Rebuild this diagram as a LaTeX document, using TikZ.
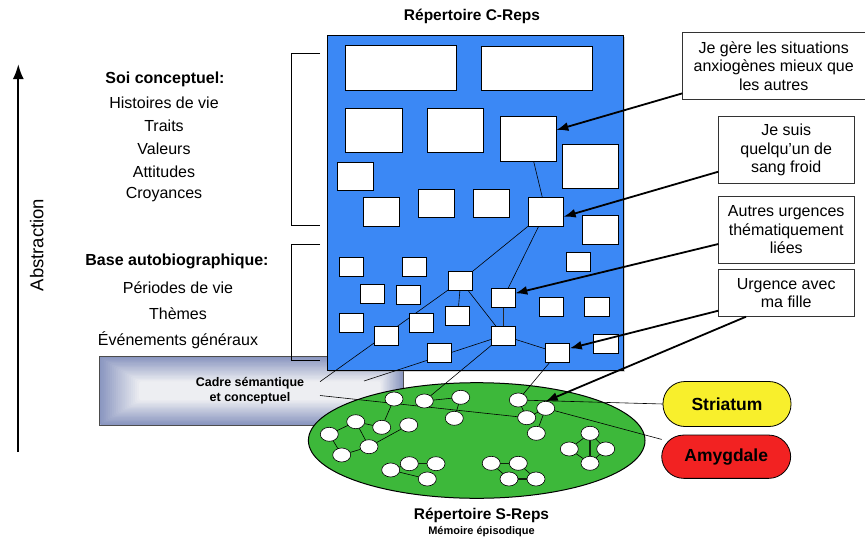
\documentclass[tikz,border=0pt]{standalone}
\usepackage{fontspec}
\setmainfont{Liberation Sans}
\usepackage{tikz}
\usetikzlibrary{arrows.meta,positioning,backgrounds,shapes.geometric,shadows}
\definecolor{cRep}{HTML}{3B88F5}
\definecolor{cEpi}{HTML}{3DB83A}
\definecolor{cStri}{HTML}{F8EF2C}
\definecolor{cAmyg}{HTML}{F22222}
\definecolor{cCadre}{HTML}{8A96C0}
\definecolor{cCadreLt}{HTML}{EDEEF2}

\begin{document}
\begin{tikzpicture}[x=1pt,y=-1pt,every node/.style={outer sep=0pt},
  crep/.style={draw=black,line width=0.7pt,fill=white,inner sep=0pt},
  sdot/.style={ellipse,draw=black,line width=0.6pt,fill=white,minimum width=18pt,minimum height=14pt,inner sep=0pt},
  callout/.style={draw=black!80,line width=0.6pt,fill=white,align=center,inner sep=2pt,
                  font=\fontsize{16}{18.5}\selectfont},
  lbl/.style={font=\fontsize{16}{18}\selectfont},
  lblhead/.style={font=\fontsize{16}{18}\selectfont\bfseries},
  point/.style={-{Latex[length=12pt,width=9pt]},line width=1.8pt},
  zone/.style={draw=black,line width=0.8pt,rounded corners=22pt,minimum width=128pt,
               minimum height=45pt,font=\fontsize{17.5}{20}\selectfont\bfseries},
  link/.style={line width=0.6pt},
  blink/.style={line width=1.4pt,black!80!cEpi}]
\useasboundingbox (0,0) rectangle (865,538);

% containers
\begin{scope}[on background layer]
  % cadre: stepped glow, dark rim to light centre
  \foreach \i in {0,...,24}{
    \pgfmathsetmacro\p{min(100,\i*100/19)}
    \fill[cCadreLt!\p!cCadre,rounded corners=2pt]
      ({99.3+2.1*\i},{356.7+1.3*\i}) rectangle ({403.3-1.2*\i},{425-1.3*\i});
  }
  \draw[black!70,line width=0.6pt] (99.3,356.7) rectangle (403.3,425);
  \node[draw=black,line width=1pt,fill=cRep,minimum width=296pt,minimum height=335pt,
        drop shadow={shadow xshift=2pt,shadow yshift=-2pt,opacity=.35}] (creps) at (475,202.5) {};
  \node[ellipse,draw=black,line width=1pt,fill=cEpi,minimum width=336.6pt,
        minimum height=115.6pt] (sreps) at (476.7,440.5) {};
\end{scope}

\node[font=\fontsize{15.5}{18}\selectfont\bfseries] (ctitle) at (472,16) {Répertoire C-Reps};
\node[font=\fontsize{15.5}{18}\selectfont\bfseries] (stitle) at (481.5,515.5) {Répertoire S-Reps};
\node[font=\fontsize{11}{13}\selectfont\bfseries] (ssub) at (481.5,531.5) {Mémoire épisodique};

% C-Reps boxes: name/x/y
\foreach \n/\x/\y in {1/401/67.7, 2/537/68}
  \node[crep,minimum width=110.6pt,minimum height=44.3pt] (cr\n) at (\x,\y) {};
\foreach \n/\x/\y in {3/373.7/130, 4/455.3/130, 5/528.2/138.8, 6/590/166.3}
  \node[crep,minimum width=56.3pt,minimum height=44.3pt] (cr\n) at (\x,\y) {};
\foreach \n/\x/\y in {7/355.2/176.5, 8/381.5/211.8, 9/436.2/203.5, 10/491.2/203.5,
                      11/545.8/211.8, 12/600.2/229.8}
  \node[crep,minimum width=35.7pt,minimum height=28.4pt] (cr\n) at (\x,\y) {};
\foreach \n/\x/\y in {13/578.7/261.7, 14/351.7/266.8, 15/414.2/266.8, 16/460.7/281,
                      17/372/293.8, 18/408.3/294.7, 19/503.2/298.3, 20/551.2/307.3,
                      21/596.8/307.3, 22/351.7/322.5, 23/421.5/322.5, 24/457.7/316.2,
                      25/386.7/335.5, 26/503.2/335.5, 27/439.3/352.7, 28/557.7/352.8,
                      29/605.8/343.5}
  \node[crep,minimum width=24.2pt,minimum height=19pt] (cr\n) at (\x,\y) {};

% S-Reps dots
\foreach \n/\x/\y in {1/394/399, 2/424.3/401, 3/460.7/397.3, 4/454.3/418.3, 5/355.7/421.7,
                      6/381.7/427.3, 7/408.7/425, 8/329.3/434.3, 9/369/446.7, 10/341.7/455,
                      11/390.7/470, 12/409.3/463.7, 13/436/463.7, 14/427.3/479,
                      15/518.3/400, 16/545.7/408.3, 17/526.7/417.7, 18/536.3/433.3,
                      19/590/433.3, 20/569.3/449, 21/605.7/449, 22/590/463.3,
                      23/491.2/463.3, 24/518.3/463.3, 25/509/479, 26/536/479}
  \node[sdot] (e\n) at (\x,\y) {};

% cadre
\node[font=\fontsize{12.5}{15}\selectfont\bfseries,align=center] (cadre) at (250,390.5)
  {Cadre sémantique\\et conceptuel};
\coordinate (cadA) at (320,381.7);
\coordinate (cadB) at (364,381);
\coordinate (cadC) at (320,395.5);

% brain zones
\node[zone,fill=cStri] (stri) at (727,404) {Striatum};
\node[zone,fill=cAmyg,minimum width=129pt,minimum height=43.3pt] (amyg) at (726.2,456.7) {Amygdale};

% links under the boxes
\begin{scope}[on background layer]
  \foreach \a/\b in {cr5/cr11, cr11/cr16, cr11/cr19, cr16/cr24, cr16/cr26, cr26/cr28,
                     cr16/cadA, cr26/cadB, cr26/e2, cr28/e15}
    \draw[link] (\a) -- (\b);
  \draw[line width=1.4pt,black!85] (cr19) -- (cr26);
  \draw[link] (cadC) -- (e17);
  \foreach \a/\b in {e1/e6, e2/e3, e3/e4, e5/e6, e5/e8, e5/e9, e8/e10, e10/e9, e9/e7,
                     e11/e12, e11/e14, e15/e17, e17/e16, e16/e18, e19/e20, e19/e21,
                     e20/e22, e21/e22, e23/e25, e24/e26}
    \draw[link] (\a) -- (\b);
  \foreach \a/\b in {e12/e13, e19/e22, e23/e24, e25/e26}
    \draw[blink] (\a) -- (\b);
  \draw[link] (e15) -- (stri.west);
  \draw[link] (e16) -- (amyg.165);
\end{scope}

% callouts
\node[callout,minimum width=182.7pt,minimum height=66.7pt] (co1) at (773.7,65.7)
  {Je gère les situations\\anxiogènes mieux que\\les autres};
\node[callout,minimum width=135.7pt,minimum height=66.6pt] (co2) at (786.2,150)
  {Je suis\\quelqu’un de\\sang froid};
\node[callout,minimum width=135.7pt,minimum height=66.6pt] (co3) at (786.2,230)
  {Autres urgences\\thématiquement\\liées};
\node[callout,minimum width=135.7pt,minimum height=47.4pt] (co4) at (786.2,293)
  {Urgence avec\\ma fille};

\draw[point] ([yshift=5.7pt]co1.south west) -- ([yshift=8.8pt]cr5.east);
\draw[point] ([yshift=-21.7pt]co2.west) -- ([yshift=-4.9pt]cr11.east);
\draw[point] ([yshift=-14pt]co3.west) -- ([yshift=5pt]cr19.east);
\draw[point] ([yshift=-17.7pt]co4.west) -- ([yshift=4.5pt]cr28.east);
\draw[point] ([xshift=-40.2pt]co4.south) -- (e16.north);

% left side
\draw[line width=0.7pt] (320,53.3) -| (291.7,225.7) -- (320,225.7);
\draw[line width=0.7pt] (320,244) -| (291.7,360.7) -- (320,360.7);

\node[lblhead] (soi) at (165,79.3) {Soi conceptuel:};
\foreach \t [count=\k] in {Histoires de vie,Traits,Valeurs,Attitudes,Croyances}
  \node[lbl] (soi\k) at (164,{79.3+23.15*\k}) {\t};
\node[lblhead] (base) at (177,261.7) {Base autobiographique:};
\foreach \t/\y [count=\k] in {Périodes de vie/287.7,Thèmes/313.3,Événements généraux/340.7}
  \node[lbl] (base\k) at (178,\y) {\t};

% abstraction axis
\coordinate (abBot) at (18.3,452);
\coordinate (abTop) at (18.3,64);
\draw[-{Latex[length=15pt,width=11pt]},line width=2.2pt] (abBot) -- (abTop);
\node[rotate=90,font=\fontsize{18.5}{20}\selectfont] (abs) at (36.7,245) {Abstraction};
\end{tikzpicture}
\end{document}
